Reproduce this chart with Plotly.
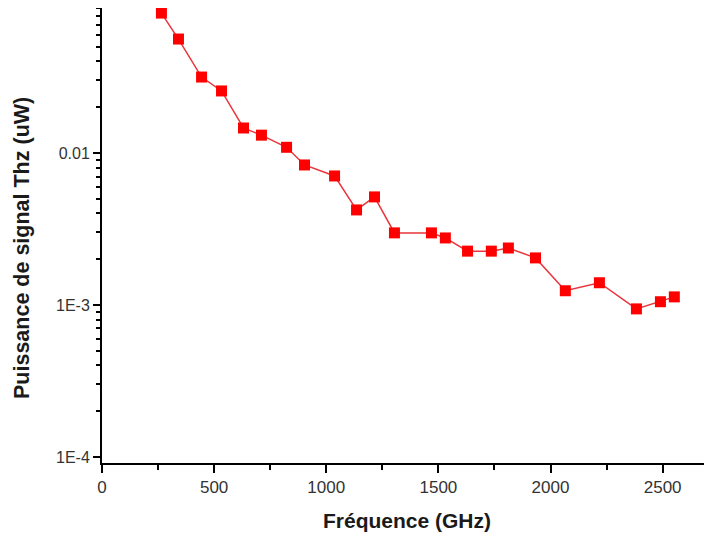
import plotly.graph_objects as go

freq_ghz = [265, 341, 444, 533, 631, 711, 823, 903, 1037, 1135, 1215, 1304, 1469,
            1531, 1630, 1736, 1812, 1933, 2066, 2218, 2383, 2490, 2552]
power_uw = [0.0833, 0.0562, 0.0316, 0.0256, 0.0146, 0.0131, 0.0109, 0.00834, 0.00706,
            0.00422, 0.00514, 0.00298, 0.00298, 0.00276, 0.00226, 0.00226, 0.00237,
            0.00204, 0.00124, 0.00140, 0.000942, 0.00105, 0.00113]

y_tickvals = [1e-4, 1e-3, 1e-2]
y_ticktext = ["1E-4", "1E-3", "0.01"]
y_minor = [m * d for d in (1e-4, 1e-3, 1e-2) for m in range(2, 10)]

x_title = "Fréquence (GHz)"
y_title = "Puissance de signal Thz (uW)"

fig = go.Figure()
fig.add_trace(go.Scatter(
    x=freq_ghz, y=power_uw, mode="lines+markers",
    line=dict(color="#e8343a", width=1.5),
    marker=dict(symbol="square", size=11, color="#ff0000", line=dict(width=0)),
    cliponaxis=False, showlegend=False,
))

font_family = "Liberation Sans, Arial, sans-serif"
fig.update_layout(
    width=704, height=530,
    margin=dict(l=94, r=0, t=0, b=75, autoexpand=False),
    paper_bgcolor="white", plot_bgcolor="white",
    font=dict(family=font_family, color="#333333"),
    xaxis=dict(
        range=[0, 2720], tickmode="linear", tick0=0, dtick=500,
        ticks="outside", ticklen=8, tickwidth=2, tickcolor="black",
        showline=True, linecolor="black", linewidth=2, showgrid=False, zeroline=False,
        minor=dict(ticks="outside", ticklen=5, tickwidth=2, tickcolor="black", dtick=250, showgrid=False),
        tickfont=dict(size=17, color="#333333"),
        title=dict(text="<b>" + x_title + "</b>", font=dict(size=21, color="#1a1a1a"), standoff=17),
    ),
    yaxis=dict(
        type="log", range=[-4.04, -1.046],
        tickmode="array", tickvals=y_tickvals, ticktext=y_ticktext,
        ticks="outside", ticklen=7, tickwidth=2, tickcolor="black",
        showline=True, linecolor="black", linewidth=2, showgrid=False, zeroline=False,
        minor=dict(ticks="outside", ticklen=4, tickwidth=1.5, tickcolor="black",
                   tickvals=y_minor, showgrid=False),
        tickfont=dict(size=16, color="#333333"),
    ),
    annotations=[dict(
        text="<b>" + y_title + "</b>", textangle=-90,
        xref="paper", yref="paper", x=0, y=0.4725, xshift=-80,
        xanchor="center", yanchor="middle", showarrow=False,
        font=dict(size=21.5, color="#1a1a1a"),
    )],
)

fig.write_html("out.html")
